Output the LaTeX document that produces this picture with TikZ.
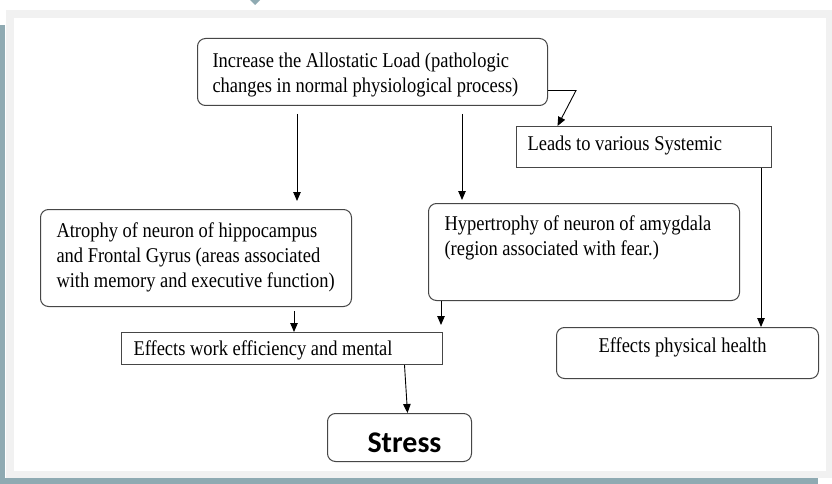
\documentclass[tikz,border=0pt]{standalone}
\usepackage{fontspec}
\setmainfont[FakeStretch=0.88]{Liberation Serif}
\newfontfamily\stressfont{Carlito}
\usetikzlibrary{arrows.meta}
\definecolor{frameteal}{RGB}{143,170,178}
\definecolor{framegray}{RGB}{241,241,241}
\definecolor{boxgray}{RGB}{70,70,70}
\newcommand{\bxt}[5]{\parbox[t][#2][t]{#1}{\fontsize{21}{25}\selectfont\leftskip=#3\relax\rule{0pt}{#4}#5\par}}
\begin{document}
\begin{tikzpicture}[x=1pt,y=-1pt,
  rbox/.style={draw=boxgray, line width=1pt, rounded corners=8pt, inner sep=0pt, anchor=north west},
  sbox/.style={draw=boxgray, line width=1pt, inner sep=0pt, anchor=north west},
  arr/.style={draw=black, line width=0.9pt, -{Triangle[length=9pt,width=7.5pt]}}]
\useasboundingbox (0,0) rectangle (832,484);
\fill[white] (0,0) rectangle (832,484);
\fill[framegray] (6,10) rectangle (832,478);
\fill[white] (14,18) rectangle (826,471);
\fill[frameteal] (0,25) rectangle (5,484);
\fill[frameteal] (0,478) rectangle (818,484);
\fill[frameteal] (250,0) -- (260,0) -- (255,5) -- cycle;

\node[rbox] (top) at (197,38) {\bxt{350pt}{67pt}{15pt}{29pt}{\mbox{Increase the Allostatic Load (pathologic}\\\mbox{changes in normal physiological process)}}};
\node[sbox] (leads) at (516,126) {\bxt{255pt}{41pt}{11pt}{24pt}{\mbox{Leads to various Systemic}}};
\node[rbox] (atr) at (40,209) {\bxt{311pt}{97pt}{16pt}{28pt}{\mbox{Atrophy of neuron of hippocampus}\\\mbox{and Frontal Gyrus (areas associated}\\\mbox{with memory and executive function)}}};
\node[rbox] (hyp) at (428,203) {\bxt{311pt}{97pt}{16pt}{27pt}{\mbox{Hypertrophy of neuron of amygdala}\\\mbox{(region associated with fear.)}}};
\node[sbox] (eff) at (121,332) {\bxt{321pt}{32pt}{12pt}{23pt}{\mbox{Effects work efficiency and mental}}};
\node[rbox] (phys) at (556,327) {\bxt{262pt}{51pt}{42pt}{25pt}{\mbox{Effects physical health}}};
\node[rbox] (stress) at (327,413) {\parbox[t][48pt][t]{144pt}{\leftskip=40pt\rule{0pt}{39pt}\stressfont\bfseries\fontsize{30}{30}\selectfont Stress\par}};

\coordinate (x1) at (297,0);
\coordinate (x2) at (462,0);
\coordinate (x3) at (761,0);
\coordinate (x4) at (294,0);
\coordinate (x5) at (441,0);

\draw[arr, shorten <=8pt, shorten >=8pt] (top.south -| x1) -- (atr.north -| x1);
\draw[arr, shorten <=8pt, shorten >=3pt] (top.south -| x2) -- (hyp.north -| x2);
\draw[arr] ([yshift=-18.5pt]top.east) -- ++(28,0) -- ([xshift=-86.5pt]leads.north);
\draw[arr] (leads.south -| x3) -- (phys.north -| x3);
\draw[arr, shorten <=4pt] (atr.south -| x4) -- (eff.north -| x4);
\draw[arr, shorten >=7pt] (hyp.south -| x5) -- (eff.north -| x5);
\draw[arr] ([xshift=122.5pt]eff.south) -- ([xshift=8pt]stress.north);
\end{tikzpicture}
\end{document}
